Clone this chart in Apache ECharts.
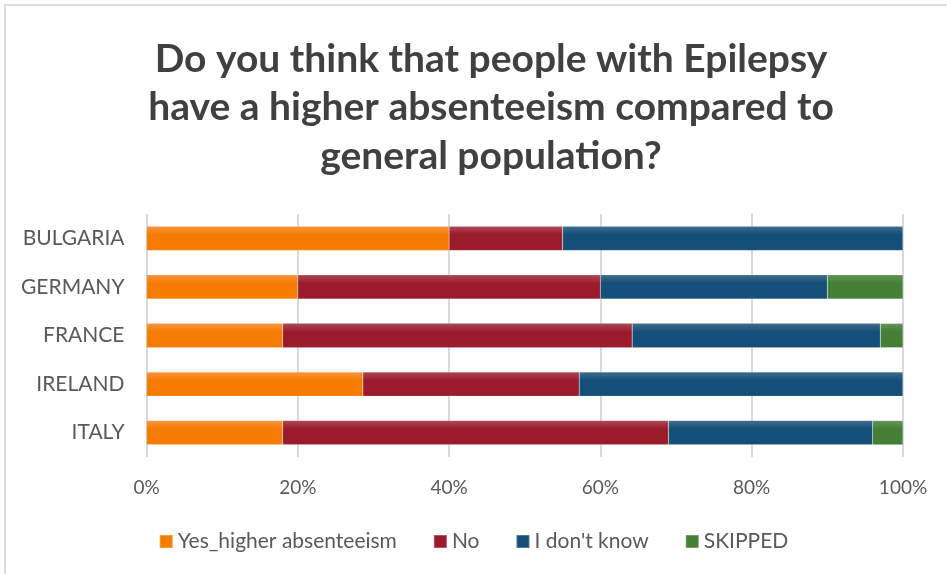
<!DOCTYPE html>
<html>
<head>
<meta charset="utf-8">
<script src="https://cdn.jsdelivr.net/npm/echarts@6/dist/echarts.min.js"></script>
<style>
  html, body { margin: 0; padding: 0; background: #fff; }
  #chart { width: 947px; height: 574px; }
</style>
</head>
<body>
<div id="chart"></div>
<script>
// Survey answers per country, as percentages of respondents
const countries = ['BULGARIA', 'GERMANY', 'FRANCE', 'IRELAND', 'ITALY'];
const seriesNames = ['Yes_higher absenteeism', 'No', "I don't know", 'SKIPPED'];
const yesHigher = [40, 20, 18, 28.6, 18];
const answerNo = [15, 40, 46.2, 28.6, 51];
const dontKnow = [45, 30, 32.8, 42.8, 27];
const skipped = [0, 10, 3, 0, 4];
const xTicks = [0, 20, 40, 60, 80, 100];

const FONT = 'Lato, "Open Sans", sans-serif';

function grad(top, bottom) {
  return new echarts.graphic.LinearGradient(0, 0, 0, 1, [
    { offset: 0, color: top },
    { offset: 0.35, color: bottom },
    { offset: 1, color: bottom }
  ]);
}

const palette = [
  { fill: grad('#FA9444', '#F57C00'), solid: '#F57C00' },
  { fill: grad('#AC4A55', '#9B1B2B'), solid: '#9B1B2B' },
  { fill: grad('#446C8C', '#134F78'), solid: '#134F78' },
  { fill: grad('#64965A', '#437F35'), solid: '#437F35' }
];

const values = [yesHigher, answerNo, dontKnow, skipped];

const chart = echarts.init(document.getElementById('chart'), null, { renderer: 'canvas' });

chart.setOption({
  backgroundColor: '#ffffff',
  animation: false,
  graphic: [{
    type: 'rect',
    shape: { x: 5, y: 5, width: 1100, height: 1100 },
    style: { fill: 'none', stroke: '#dedede', lineWidth: 2 },
    silent: true
  }],
  title: {
    text: 'Do you think that people with Epilepsy\nhave a higher absenteeism compared to\ngeneral population?',
    left: 486,
    top: 30,
    textAlign: 'center',
    textStyle: {
      fontFamily: FONT,
      fontWeight: 'bold',
      fontSize: 39,
      lineHeight: 48.5,
      color: '#404040'
    }
  },
  legend: {
    bottom: 17,
    left: 'center',
    itemWidth: 13,
    itemHeight: 13,
    itemGap: 36,
    icon: 'rect',
    textStyle: { fontFamily: FONT, fontSize: 21, color: '#595959' },
    data: seriesNames.map((n, i) => ({ name: n, itemStyle: { color: palette[i].solid } }))
  },
  grid: { left: 146.5, right: 44, top: 214, bottom: 117, containLabel: false },
  xAxis: {
    type: 'value',
    min: xTicks[0],
    max: xTicks[xTicks.length - 1],
    interval: 20,
    axisLine: { show: false },
    axisTick: { show: false },
    axisLabel: {
      formatter: v => v + '%',
      margin: 21,
      fontFamily: FONT,
      fontSize: 19,
      color: '#595959'
    },
    splitLine: { show: true, lineStyle: { color: '#d9d9d9', width: 2 } }
  },
  yAxis: {
    type: 'category',
    inverse: true,
    data: countries,
    axisLine: { show: false },
    axisTick: { show: false },
    axisLabel: {
      margin: 22,
      fontFamily: FONT,
      fontSize: 21,
      color: '#595959'
    }
  },
  series: seriesNames.map((name, i) => ({
    name: name,
    type: 'bar',
    stack: 'total',
    barWidth: '50%',
    data: values[i],
    itemStyle: { color: palette[i].fill, borderColor: 'rgba(255,255,255,0.25)', borderWidth: 0.5 }
  }))
});
</script>
</body>
</html>
